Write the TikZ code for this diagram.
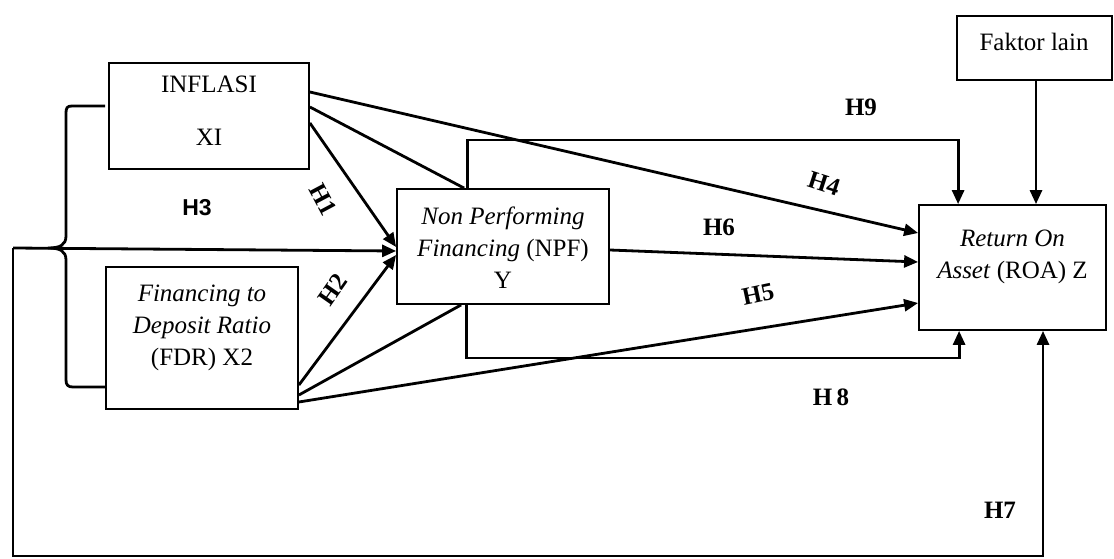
\documentclass[tikz,border=0pt]{standalone}
\usepackage{fontspec}
\setmainfont{Liberation Serif}
\newfontfamily\hsans{Liberation Sans}
\usetikzlibrary{arrows.meta,calc}
\begin{document}
\begin{tikzpicture}[x=1pt,y=-1pt,
  box/.style={draw,line width=1.8pt,inner sep=0pt},
  txt/.style={align=center,font=\fontsize{25}{32}\selectfont,inner sep=0pt},
  conn/.style={line width=2.8pt},
  arr/.style={conn,-{Triangle[length=14pt,width=12pt]}},
  hl/.style={font=\fontsize{25}{28}\selectfont\bfseries,inner sep=0pt}]
\fill[white] (0,0) rectangle (1114,559);
\useasboundingbox (0,0) rectangle (1114,559);

% boxes
\node[box,minimum width=200pt,minimum height=106pt] (inf) at (209,116) {};
\node[txt] (inft) at (209,111) {INFLASI\\[21pt]XI};
\node[box,minimum width=192pt,minimum height=142pt] (fdr) at (202,338) {};
\node[txt] (fdrt) at (202,328) {\textit{Financing to}\\\textit{Deposit Ratio}\\(FDR) X2};
\node[box,minimum width=212pt,minimum height=115pt] (npf) at (503,246.5) {};
\node[txt] (npft) at (503,248) {\textit{Non Performing}\\\textit{Financing} (NPF)\\Y};
\node[box,minimum width=187pt,minimum height=125pt] (roa) at (1012.5,267.5) {};
\node[txt] (roat) at (1012.5,257) {\textit{Return On}\\\textit{Asset} (ROA) Z};
\node[box,minimum width=155pt,minimum height=64pt] (fak) at (1034.5,48) {};
\node[txt] (fakt) at (1034,42) {Faktor lain};

\coordinate (lc) at (13,248);
\coordinate (lb) at (13,556);

% brace
\draw[conn] (105,106) -- (72,106) .. controls (67,106) and (66,108) .. (66,113) -- (66,236)
  .. controls (66,245) and (60,248) .. (48,248) .. controls (60,248) and (66,251) .. (66,260)
  -- (66,380) .. controls (66,385) and (68,387) .. (73,387) -- (105,387);

% connectors from INFLASI
\draw[arr] ([yshift=24pt]inf.east) -- ([yshift=34.5pt]roa.west);
\draw[conn] ([yshift=9pt]inf.east) -- ([xshift=68pt]npf.north west);
\draw[arr] ([yshift=-7pt]inf.east) -- ([yshift=-0.5pt]npf.west);
% H3
\draw[arr] (lc) -- ([yshift=-4.5pt]npf.west);
% from FDR
\draw[arr] ([yshift=-47pt]fdr.east) -- ([yshift=-8.5pt]npf.west);
\draw[conn] ([yshift=-57pt]fdr.east) -- ([xshift=65pt]npf.south west);
\draw[arr] ([yshift=-64pt]fdr.east) -- ([yshift=-35.5pt]roa.west);
% H6
\draw[arr] ([yshift=-3.5pt]npf.east) -- ([yshift=5.5pt]roa.west);
% H9
\draw[arr] ([xshift=71pt]npf.north west) -- ++(0,-48) -| ([xshift=40pt]roa.north west);
% H8
\draw[arr] ([xshift=70pt]npf.south west) -- ++(0,53) -| ([xshift=41pt]roa.south west);
% Faktor lain
\draw[arr] ([xshift=1.5pt]fak.south) -- ([xshift=1.5pt]fak.south |- roa.north);
% H7
\draw[arr] (lc) -- (lb) -| ([xshift=30.5pt]roa.south);

% labels
\node[hl,rotate=-62] (h1) at (323,200) {H1};
\node[hl,rotate=55] (h2) at (333,290) {H2};
\node[hl,font=\hsans\fontsize{23}{28}\selectfont\bfseries] (h3) at (197,208) {H3};
\node[hl,rotate=-18] (h4) at (824,184) {H4};
\node[hl,rotate=12] (h5) at (758,294) {H5};
\node[hl] (h6) at (719,227) {H6};
\node[hl] (h7) at (1000,510) {H7};
\node[hl] (h8) at (831,397) {H\,8};
\node[hl] (h9) at (861,107) {H9};
\end{tikzpicture}
\end{document}
